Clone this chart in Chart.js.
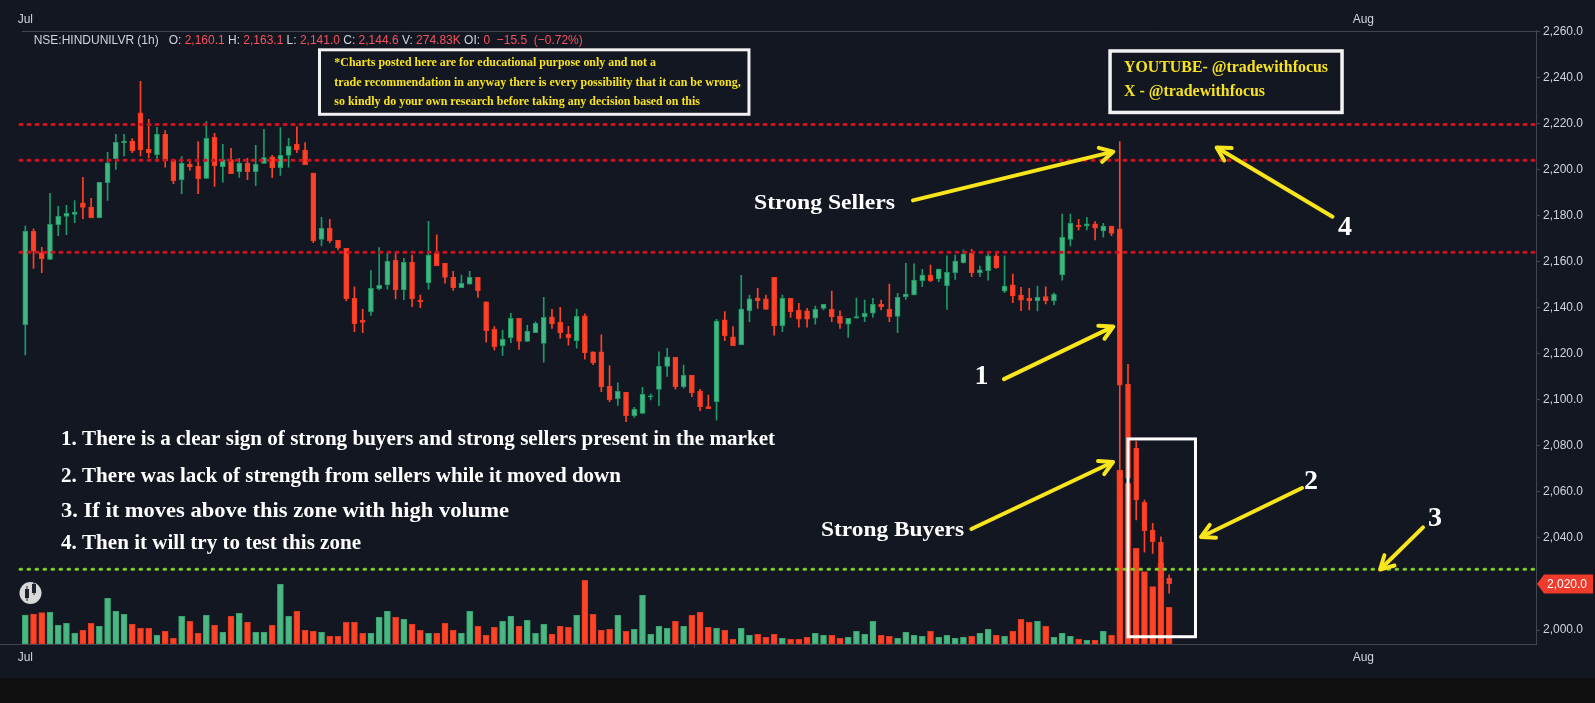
<!DOCTYPE html>
<html><head><meta charset="utf-8">
<script src="https://cdn.jsdelivr.net/npm/chart.js@4.4.1/dist/chart.umd.min.js"></script>
<style>html,body{margin:0;padding:0;background:#131722;overflow:hidden}#wrap{width:1595px;height:703px;position:relative}</style>
</head><body><div id="wrap"><canvas id="c"></canvas></div>
<script>
// ---- data ----
const opens = [2132.6,2173.2,2163.9,2161.0,2176.1,2179.6,2180.5,2185.5,2183.7,2179.1,
2194.3,2204.7,2211.7,2212.4,2224.6,2208.8,2206.5,2215.3,2204.2,2195.6,
2202.3,2201.4,2196.1,2214.0,2201.2,2204.3,2199.1,2202.7,2199.1,2202.7,
2205.5,2200.8,2206.1,2211.1,2208.5,2198.5,2169.7,2174.5,2169.3,2165.8,
2144.1,2134.5,2138.3,2148.3,2149.9,2160.6,2147.8,2159.7,2143.2,2150.9,
2163.6,2159.3,2153.2,2148.7,2150.2,2153.2,2142.5,2130.6,2123.5,2127.0,
2135.4,2125.3,2129.2,2124.5,2136.0,2133.8,2128.4,2125.7,2136.5,2120.8,
2120.8,2105.9,2100.5,2103.2,2093.1,2094.1,2101.2,2104.5,2114.5,2118.4,
2105.7,2110.6,2103.7,2097.0,2099.2,2134.7,2127.4,2123.9,2138.7,2144.3,
2143.8,2153.2,2132.2,2144.1,2139.0,2138.6,2135.4,2139.7,2139.4,2136.4,
2132.8,2135.4,2136.1,2137.6,2141.6,2139.4,2136.2,2144.8,2145.5,2151.7,
2154.2,2152.5,2149.6,2155.2,2159.6,2163.6,2155.2,2156.1,2162.5,2147.2,
2149.9,2145.5,2144.1,2143.1,2144.8,2143.1,2154.2,2169.7,2175.9,2175.5,
2176.4,2173.3,2175.5,2174.2,2106.7,2078.9,2055.5,2043.4,2038.1,2022.5];
const highs = [2175.5,2174.3,2166.2,2189.7,2184.0,2184.5,2186.5,2196.6,2187.5,2194.5,
2207.5,2215.3,2215.3,2213.4,2238.3,2221.8,2218.3,2216.9,2204.2,2205.6,
2203.7,2212.1,2220.8,2215.7,2211.0,2209.2,2204.9,2204.9,2210.5,2217.5,
2206.2,2218.2,2213.6,2218.6,2211.7,2198.5,2179.3,2178.4,2169.3,2165.8,
2149.1,2139.3,2156.1,2166.1,2163.6,2163.6,2161.4,2162.9,2145.5,2177.5,
2171.6,2159.3,2155.8,2154.2,2155.8,2153.2,2142.5,2131.8,2130.3,2137.6,
2135.4,2132.3,2133.9,2144.5,2139.3,2140.2,2131.9,2139.4,2137.3,2120.8,
2128.2,2114.7,2107.4,2103.2,2096.7,2105.4,2102.5,2120.8,2122.4,2118.4,
2115.1,2110.6,2104.5,2102.1,2135.0,2138.3,2131.8,2154.1,2145.5,2148.4,
2145.5,2153.2,2145.5,2144.1,2141.9,2139.7,2140.7,2141.5,2147.2,2138.6,
2135.4,2144.2,2143.3,2144.1,2143.3,2150.3,2146.2,2159.3,2159.0,2156.7,
2158.5,2156.8,2162.5,2162.9,2165.1,2165.3,2158.1,2163.9,2163.9,2162.5,
2154.6,2148.8,2148.4,2149.4,2149.1,2146.5,2180.7,2180.7,2178.4,2179.3,
2177.4,2176.6,2175.5,2212.1,2115.4,2081.8,2056.5,2046.4,2040.5,2024.0];
const lows = [2119.5,2157.1,2155.2,2161.0,2171.3,2171.7,2176.9,2178.7,2179.0,2179.0,
2186.6,2200.1,2205.9,2207.3,2205.9,2205.0,2203.4,2201.0,2193.9,2189.5,
2199.7,2189.5,2196.0,2192.7,2194.5,2198.2,2196.6,2195.6,2193.0,2202.7,
2196.5,2197.5,2201.0,2207.3,2202.1,2168.2,2166.8,2168.2,2165.1,2142.9,
2129.6,2129.2,2136.7,2147.7,2148.0,2143.8,2143.5,2140.5,2140.0,2148.0,
2158.3,2150.6,2147.5,2148.7,2150.2,2144.5,2125.0,2121.6,2119.3,2124.8,
2121.9,2125.3,2129.2,2116.3,2131.0,2126.7,2123.7,2122.4,2117.6,2115.3,
2103.5,2099.2,2097.6,2090.5,2092.4,2094.1,2099.9,2097.5,2110.1,2104.6,
2105.0,2101.4,2095.3,2096.2,2091.2,2125.7,2123.5,2123.9,2133.9,2139.7,
2139.3,2128.1,2129.6,2135.8,2131.5,2131.5,2132.8,2139.0,2133.9,2131.0,
2127.1,2135.4,2133.9,2135.8,2139.0,2133.9,2129.2,2143.6,2145.5,2149.1,
2151.3,2151.3,2139.3,2152.3,2159.3,2153.5,2153.5,2152.0,2157.1,2146.5,
2142.2,2138.7,2139.0,2138.6,2141.6,2141.2,2152.0,2166.8,2173.8,2173.8,
2169.4,2170.6,2171.3,2068.0,2062.0,2047.8,2033.8,2033.3,2021.7,2016.0];
const closes = [2173.2,2164.5,2161.3,2176.2,2179.7,2181.0,2181.5,2183.5,2179.1,2194.4,
2202.9,2211.8,2212.4,2208.1,2208.5,2207.2,2215.3,2203.9,2195.2,2202.7,
2201.1,2195.9,2213.6,2201.7,2204.3,2198.2,2202.7,2199.1,2202.3,2205.2,
2200.8,2206.2,2210.1,2208.5,2202.1,2169.0,2174.5,2169.0,2166.1,2143.8,
2133.1,2133.6,2148.4,2149.7,2160.1,2147.7,2159.7,2143.8,2142.5,2162.9,
2158.3,2153.1,2148.7,2150.6,2153.2,2147.4,2130.0,2123.1,2126.3,2135.4,
2125.3,2129.7,2133.2,2135.8,2133.0,2129.2,2127.0,2136.3,2120.5,2116.0,
2105.7,2099.9,2103.7,2093.1,2095.9,2102.4,2101.7,2114.5,2118.7,2105.7,
2110.6,2103.1,2097.0,2096.2,2134.2,2127.9,2123.5,2139.4,2143.8,2143.1,
2139.3,2132.2,2144.1,2138.3,2135.0,2135.0,2139.3,2141.5,2136.1,2133.2,
2135.4,2136.1,2137.6,2141.5,2140.3,2136.1,2144.5,2145.9,2152.0,2154.2,
2151.7,2156.8,2155.4,2160.3,2163.3,2155.2,2156.4,2162.5,2157.4,2149.4,
2145.1,2143.3,2143.1,2144.5,2143.1,2145.8,2170.6,2176.6,2175.2,2176.4,
2174.5,2175.5,2172.3,2106.4,2066.0,2056.5,2043.2,2038.4,2021.7,2020.0];
const volumesK = [290,300,313,317,187,207,107,137,207,177,
457,327,297,197,157,157,87,127,57,277,
227,107,287,187,117,277,307,217,117,117,
187,597,277,327,137,127,117,77,77,217,
217,107,107,267,327,267,247,197,137,107,
107,207,137,107,327,177,87,167,227,277,
177,237,107,197,97,177,167,287,637,297,
137,147,287,127,147,487,97,177,157,227,
177,287,317,167,157,137,47,157,87,97,
67,97,57,47,47,67,107,87,87,57,
67,127,97,227,87,77,57,117,87,77,
127,67,87,57,67,77,107,147,87,77,
127,247,217,227,177,67,107,77,47,37,
37,127,87,1740,1607,957,723,573,807,367];
const timeTicks = [{value:0,label:'Jul'},{value:162.6,label:'Aug'}];
const priceTicks = [2000,2020,2040,2060,2080,2100,2120,2140,2160,2180,2200,2220,2240,2260];
const resistanceLevels = [2219.6, 2204.0, 2164.1];
const zoneLevel = 2026.4;
const legendValues = ['NSE:HINDUNILVR (1h)','2,160.1','2,163.1','2,141.0','2,144.6','274.83K','0','\u221215.5','(\u22120.72%)'];
const notePoints = [
 "1. There is a clear sign of strong buyers and strong sellers present in the market",
 "2. There was lack of strength from sellers while it moved down",
 "3. If it moves above this zone with high volume",
 "4. Then it will try to test this zone"];
const disclaimerLines = [
 "*Charts posted here are for educational purpose only and not a",
 "trade recommendation in anyway there is every possibility that it can be wrong,",
 "so kindly do your own research before taking any decision based on this"];
const channelLines = ["YOUTUBE- @tradewithfocus","X - @tradewithfocus"];

// ---- chart ----
const X_MIN = -3.0745, X_MAX = 183.58, Y_MIN = 1993.94, Y_MAX = 2260.39, V_MAX = 6135;
const UP='#40b680', UPB='#1d9a66', DN='#fe4127', DNB='#f03b22';
const isUp = closes.map((c,i)=>c>=opens[i]);
const fmt = v => { const s=v.toFixed(1); const [a,b]=s.split('.'); return a.replace(/\B(?=(\d{3})+(?!\d))/g,',')+'.'+b; };

function levelLine(p, color, dash){
  return {type:'line', data:[{x:-0.64,y:p},{x:X_MAX,y:p}], borderColor:color, borderWidth:3,
    borderDash:dash, borderCapStyle:'round', pointRadius:0, yAxisID:'y', xAxisID:'x', order:0, tension:0};
}

const Y_TXT='#f7e320', FONT_SERIF='"Liberation Serif", "Times New Roman", serif';
const anno = {
  labels:[
    {t:'Strong Sellers', x:97.12, y:2185.47, size:22, w:141},
    {t:'Strong Buyers', x:105.38, y:2043.45, size:22, w:143},
    {t:'1', x:116.21, y:2109.9, size:28},
    {t:'2', x:156.24, y:2064.3, size:28},
    {t:'3', x:171.31, y:2048.2, size:28},
    {t:'4', x:160.37, y:2174.6, size:28}],
  arrows:[[107.87,2186.6,132.21,2207.75],[158.85,2179.52,144.77,2209.58],[118.93,2109.0,132.21,2131.8],
          [114.97,2043.9,132.18,2073.0],[155.15,2061.7,142.87,2040.4],[169.85,2044.6,164.63,2026.25]],
  box:[134.0,2083.0,142.2,1997.1],
  list:{x:4.34, ys:[2083.0,2066.9,2051.7,2037.8], ws:[714,560,448,300], size:22},
  disc:{box:[35.75,2252.0,87.94,2224.0], x:37.55, ys:[2246.41,2237.72,2229.47], ws:[321.7,406.4,365.7], size:12},
  chan:{box:[131.82,2251.5,160.01,2224.8], x:133.51, ys:[2244.23,2233.55], ws:[204,141], size:16}
};

function drawText(ctx, txt, x, y, font, color, w, center){
  ctx.save(); ctx.font=font; ctx.fillStyle=color; ctx.textBaseline='middle'; ctx.textAlign='left';
  const m = ctx.measureText(txt).width; const s = w ? w/m : 1;
  ctx.translate(x,y); ctx.scale(s,1); ctx.fillText(txt, center ? -m/2 : 0, 0); ctx.restore();
}
function drawArrow(ctx,x1,y1,x2,y2,color){
  const a=Math.atan2(y2-y1,x2-x1);
  ctx.save(); ctx.strokeStyle=color; ctx.fillStyle=color; ctx.lineWidth=4; ctx.lineCap='round'; ctx.lineJoin='round';
  ctx.beginPath(); ctx.moveTo(x1,y1); ctx.lineTo(x2-3*Math.cos(a),y2-3*Math.sin(a)); ctx.stroke();
  const L=15, h=0.5;
  ctx.beginPath();
  ctx.moveTo(x2-L*Math.cos(a-h), y2-L*Math.sin(a-h));
  ctx.lineTo(x2,y2);
  ctx.lineTo(x2-L*Math.cos(a+h), y2-L*Math.sin(a+h));
  ctx.stroke();
  ctx.restore();
}

const deco = {
  id:'deco',
  beforeDraw(chart){
    const c=chart.ctx; c.save(); c.fillStyle='#131722'; c.fillRect(0,0,chart.width,chart.height);
    c.fillStyle='#0f0f10'; c.fillRect(0,678,chart.width,chart.height-678); c.restore();
  },
  beforeDatasetsDraw(chart){
    const c=chart.ctx, a=chart.chartArea; c.save(); c.strokeStyle='#434651'; c.lineWidth=1;
    c.beginPath(); c.moveTo(22,Math.round(a.top)+0.5); c.lineTo(a.right,Math.round(a.top)+0.5); c.stroke(); c.restore();
  },
  afterDraw(chart){
    const c=chart.ctx, X=chart.scales.x, Y=chart.scales.y;
    const px=v=>X.getPixelForValue(v), py=v=>Y.getPixelForValue(v);
    // legend header
    const LC='#d1d4dc', RC='#f7525f';
    const parts=[[legendValues[0],LC],['   O: ',LC],[legendValues[1],RC],[' H: ',LC],[legendValues[2],RC],[' L: ',LC],[legendValues[3],RC],
      [' C: ',LC],[legendValues[4],RC],[' V: ',LC],[legendValues[5],RC],[' OI: ',LC],[legendValues[6],RC],['  '+legendValues[7]+'  ',RC],[legendValues[8],RC]];
    c.save(); c.font='13px "Liberation Sans", Arial, sans-serif'; c.textBaseline='middle';
    let tot=0; parts.forEach(p=>tot+=c.measureText(p[0]).width);
    const sc=549/tot; c.translate(33.7,40.7); c.scale(sc,1); let xx=0;
    parts.forEach(p=>{c.fillStyle=p[1]; c.fillText(p[0],xx,0); xx+=c.measureText(p[0]).width;});
    c.restore();
    // logo
    c.save(); c.fillStyle='#d8d8d8'; c.beginPath(); c.arc(30.5,593,11,0,Math.PI*2); c.fill();
    c.fillStyle='#1e222d'; c.fillRect(25,589,4,9); c.fillRect(26.5,586,1,15); c.fillRect(32,584,4,9); c.fillRect(33.5,579,1,16);
    c.restore();
    // disclaimer box
    const d=anno.disc; c.save(); c.strokeStyle='#f2f2f2'; c.lineWidth=3;
    c.strokeRect(px(d.box[0]),py(d.box[1]),px(d.box[2])-px(d.box[0]),py(d.box[3])-py(d.box[1])); c.restore();
    disclaimerLines.forEach((t,i)=>drawText(c,t,px(d.x),py(d.ys[i]),'bold '+d.size+'px '+FONT_SERIF,Y_TXT,d.ws[i]));
    const h=anno.chan; c.save(); c.strokeStyle='#f2f2f2'; c.lineWidth=3.5;
    c.strokeRect(px(h.box[0]),py(h.box[1]),px(h.box[2])-px(h.box[0]),py(h.box[3])-py(h.box[1])); c.restore();
    channelLines.forEach((t,i)=>drawText(c,t,px(h.x),py(h.ys[i]),'bold '+h.size+'px '+FONT_SERIF,Y_TXT,h.ws[i]));
    // list
    const l=anno.list;
    notePoints.forEach((t,i)=>drawText(c,t,px(l.x),py(l.ys[i]),'bold '+l.size+'px '+FONT_SERIF,'#ffffff',l.ws[i]));
    // labels
    anno.labels.forEach(o=>drawText(c,o.t,px(o.x),py(o.y),'bold '+o.size+'px '+FONT_SERIF,'#ffffff',o.w,true));
    anno.arrows.forEach(a=>drawArrow(c,px(a[0]),py(a[1]),px(a[2]),py(a[3]),'#f8e51c'));
    // box
    const b=anno.box; c.save(); c.strokeStyle='#ffffff'; c.lineWidth=3;
    c.strokeRect(px(b[0]),py(b[1]),px(b[2])-px(b[0]),py(b[3])-py(b[1])); c.restore();
    // last price tag
    const yl=py(closes[closes.length-1]); const xl=chart.chartArea.right+1;
    c.save(); c.fillStyle='#ef3b2c'; c.beginPath(); c.moveTo(xl,yl); c.lineTo(xl+7,yl-9.5); c.lineTo(1593,yl-9.5); c.lineTo(1593,yl+9.5); c.lineTo(xl+7,yl+9.5); c.closePath(); c.fill();
    c.fillStyle='#ffffff'; c.font='12px "Liberation Sans", Arial, sans-serif'; c.textBaseline='middle'; c.fillText(fmt(closes[closes.length-1]), xl+10, yl+0.5); c.restore();
  }
};

const ticksFont = {family:'"Liberation Sans", Arial, sans-serif', size:12};
new Chart(document.getElementById('c'), {
  type:'bar',
  data:{ datasets:[
    {label:'volume', data:volumesK.map((v,i)=>({x:i,y:v})), yAxisID:'yv', xAxisID:'x', barThickness:6, grouped:false, order:5,
     backgroundColor:isUp.map(u=>u?'#4cb783':'#ff4326'), borderColor:isUp.map(u=>u?'#35a571':'#e0391f'), borderWidth:1, borderSkipped:false},
    {label:'wicks', data:lows.map((v,i)=>({x:i,y:[v,highs[i]]})), yAxisID:'y', xAxisID:'x', barThickness:1, grouped:false, order:4,
     backgroundColor:isUp.map(u=>u?UPB:DN), borderWidth:0, minBarLength:1},
    {label:'candles', data:opens.map((v,i)=>({x:i,y:[v,closes[i]]})), yAxisID:'y', xAxisID:'x', barThickness:5, grouped:false, order:3,
     backgroundColor:isUp.map(u=>u?UP:DN), borderColor:isUp.map(u=>u?UPB:DNB), borderWidth:1, borderSkipped:false, minBarLength:1},
    ...resistanceLevels.map(p=>levelLine(p,'#d3101f',[2,6])),
    levelLine(zoneLevel,'#7cd11c',[1.5,6.5])
  ]},
  options:{
    responsive:true, maintainAspectRatio:false, animation:false, events:[],
    layout:{padding:{left:0,right:0,top:0,bottom:25}},
    plugins:{legend:{display:false}, tooltip:{enabled:false}},
    scales:{
      x:{type:'linear', position:'bottom', min:X_MIN, max:X_MAX, offset:false,
        grid:{display:true, drawOnChartArea:false, drawTicks:true, tickLength:4, color:'#434651'},
        border:{display:true, color:'#434651'},
        afterBuildTicks:s=>{s.ticks=timeTicks.map(t=>({value:t.value}));},
        ticks:{autoSkip:false, maxRotation:0, padding:2, color:'#d1d4dc', font:ticksFont,
          callback:v=>{const t=timeTicks.find(q=>Math.abs(q.value-v)<1e-6); return t?t.label:'';}},
        afterFit:s=>{s.height=34;}},
      xt:{type:'linear', position:'top', min:X_MIN, max:X_MAX, offset:false,
        grid:{display:false, drawTicks:false}, border:{display:false},
        afterBuildTicks:s=>{s.ticks=timeTicks.map(t=>({value:t.value}));},
        ticks:{autoSkip:false, maxRotation:0, padding:4, color:'#d1d4dc', font:ticksFont,
          callback:v=>{const t=timeTicks.find(q=>Math.abs(q.value-v)<1e-6); return t?t.label:'';}},
        afterFit:s=>{s.height=30.5;}},
      y:{type:'linear', position:'right', min:Y_MIN, max:Y_MAX, beginAtZero:false,
        grid:{display:true, drawOnChartArea:false, drawTicks:true, tickLength:4, color:'#434651'},
        border:{display:true, color:'#434651'},
        afterBuildTicks:s=>{s.ticks=priceTicks.map(v=>({value:v}));},
        ticks:{autoSkip:false, padding:3, color:'#d1d4dc', font:ticksFont, callback:v=>fmt(v)},
        afterFit:s=>{s.width=59;}},
      yv:{type:'linear', display:false, min:0, max:V_MAX, position:'left'}
    }
  },
  plugins:[deco]
});
</script></body></html>
